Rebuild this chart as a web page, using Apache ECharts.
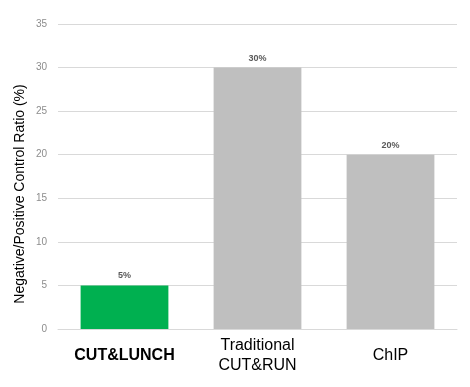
<!DOCTYPE html>
<html>
<head>
<meta charset="utf-8">
<script src="https://cdn.jsdelivr.net/npm/echarts@6/dist/echarts.min.js"></script>
<style>html,body{margin:0;padding:0;background:#fff;}#c{width:470px;height:387px;}</style>
</head>
<body>
<div id="c"></div>
<script>
var categories = ['CUT&LUNCH', 'Traditional\nCUT&RUN', 'ChIP'];
var values = [5, 30, 20];
var barColors = ['#00b050', '#bfbfbf', '#bfbfbf'];
var yAxisTitle = 'Negative/Positive Control Ratio (%)';

var chart = echarts.init(document.getElementById('c'), null, {renderer: 'canvas'});
chart.setOption({
  animation: false,
  grid: {left: 58, right: 13, top: 24, bottom: 58},
  xAxis: {
    type: 'category',
    data: categories.map(function (c, i) {
      return i === 0 ? {value: c, textStyle: {fontWeight: 'bold', verticalAlign: 'middle', lineHeight: 20, fontSize: 16, color: '#000'}} : c;
    }),
    axisTick: {show: false},
    axisLine: {lineStyle: {color: '#d9d9d9', width: 1}},
    axisLabel: {
      fontFamily: 'Liberation Sans, Arial, sans-serif',
      fontSize: 16,
      color: '#000',
      lineHeight: 20,
      verticalAlign: 'middle',
      margin: 27,
      interval: 0
    }
  },
  yAxis: {
    type: 'value',
    min: 0, max: 35, interval: 5,
    axisLine: {show: false},
    axisTick: {show: false},
    splitLine: {lineStyle: {color: '#d9d9d9', width: 1}},
    axisLabel: {
      fontFamily: 'Liberation Sans, Arial, sans-serif',
      fontSize: 10,
      color: '#8c8c8c',
      margin: 11
    }
  },
  graphic: [{
    type: 'text',
    x: 20, y: 194,
    rotation: Math.PI / 2,
    style: {
      text: yAxisTitle,
      fontFamily: 'Liberation Sans, Arial, sans-serif',
      fontSize: 14,
      fill: '#000',
      align: 'center',
      verticalAlign: 'middle'
    }
  }],
  series: [{
    type: 'bar',
    barWidth: '66%',
    data: values.map(function (v, i) {
      return {value: v, itemStyle: {color: barColors[i]}};
    }),
    label: {
      show: true,
      position: 'top',
      distance: 5,
      formatter: '{c}%',
      fontFamily: 'Liberation Sans, Arial, sans-serif',
      fontSize: 9,
      fontWeight: 'bold',
      color: '#595959'
    }
  }]
});
</script>
</body>
</html>
